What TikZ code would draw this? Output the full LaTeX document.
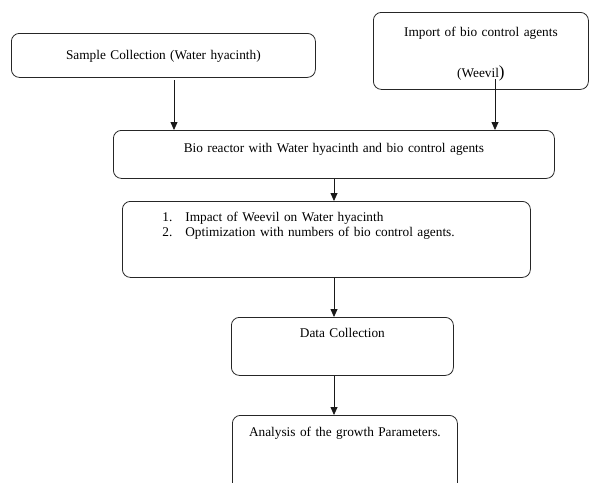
\documentclass[tikz,border=0pt]{standalone}
\usepackage{fontspec}
\setmainfont{Liberation Serif}
\usetikzlibrary{positioning,arrows.meta}
\newcommand{\lstep}[1]{\hspace*{40pt}\makebox[23pt][l]{#1}}
\tikzset{
  box/.style={draw=black!85,line width=0.8pt,rounded corners=8pt,inner sep=0pt,anchor=north west,
    align=center,font=\fontsize{13.3}{15}\selectfont},
  arr/.style={-{Triangle[length=8pt,width=7pt]},line width=0.8pt,black!90},
}
\begin{document}
\begin{tikzpicture}[x=1pt,y=-1pt]
\useasboundingbox (0,0) rectangle (589,482);
\clip (0,0) rectangle (589,482);
\node[box,text width=304pt,text height=26pt,text depth=18pt] (samp) at (11,33) {Sample Collection (Water hyacinth)};
\node[box,text width=215pt,text height=24.5pt,text depth=52.5pt] (imp) at (373,12) {Import of bio control agents\\[26pt](Weevil{\fontsize{17}{17}\selectfont)}};
\node[box,text width=441pt,text height=22.5pt,text depth=25.5pt] (bio) at (113,130) {Bio reactor with Water hyacinth and bio control agents};
\node[box,text width=408pt,text height=20pt,text depth=56pt,align=left] (imp2) at (122,201) {\lstep{1.}Impact of Weevil on Water hyacinth\\\lstep{2.}Optimization with numbers of bio control agents.};
\node[box,text width=222pt,text height=20.5pt,text depth=37.5pt] (data) at (231,317) {Data Collection};
\node[box,text width=225pt,text height=21.5pt,text depth=90pt] (ana) at (232,415) {Analysis of the growth Parameters.};
% arrow columns
\coordinate (a1) at (174,80);
\coordinate (a2) at (495,79);
\coordinate (a3) at (334,0);
\draw[arr] (a1) -- (bio.north -| a1);
\draw[arr] (a2) -- (bio.north -| a2);
\draw[arr] (bio.south -| a3) -- (imp2.north -| a3);
\draw[arr] (imp2.south -| a3) -- (data.north -| a3);
\draw[arr] (data.south -| a3) -- (ana.north -| a3);
\end{tikzpicture}
\end{document}
